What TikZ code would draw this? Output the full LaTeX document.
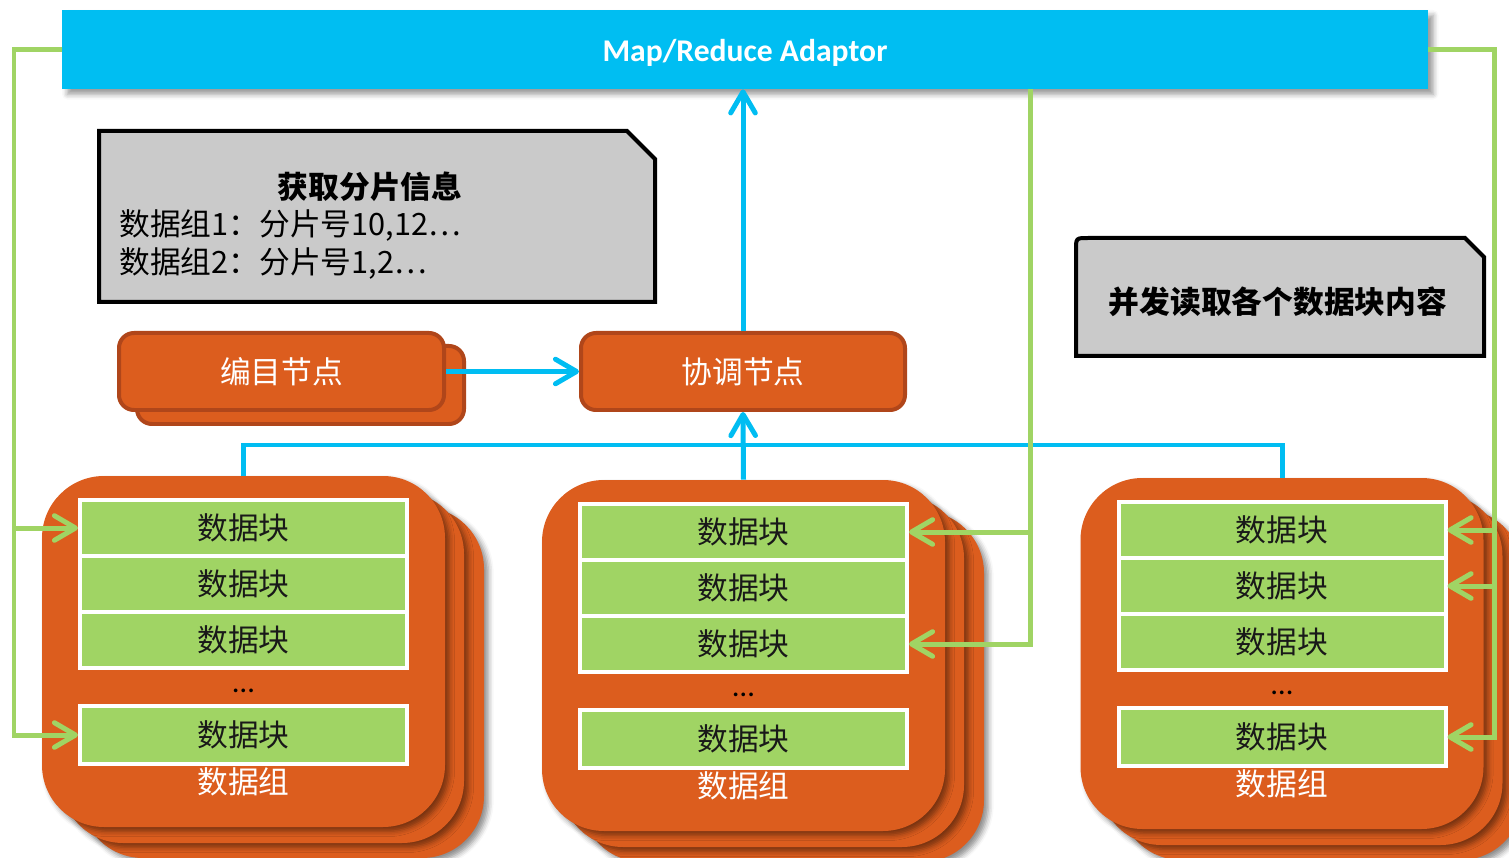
\documentclass[tikz,border=0pt]{standalone}
\usepackage{fontspec}
\setmainfont{Carlito}
\newfontfamily\cjk{Noto Sans CJK SC}
\usetikzlibrary{arrows.meta,shadows.blur}

\definecolor{barblue}{HTML}{00BEF2}
\definecolor{lineblue}{HTML}{00BDF2}
\definecolor{nodeorange}{HTML}{DC5D1E}
\definecolor{nodeedge}{HTML}{B0461A}
\definecolor{blockgreen}{HTML}{A0D464}
\definecolor{linegreen}{HTML}{A0D464}
\definecolor{notegray}{HTML}{CACACA}

\tikzset{
  zh/.style={font=\cjk\fontsize{17.5}{21}\selectfont},
  zhbold/.style={font=\cjk\bfseries\fontsize{17.5}{21}\selectfont},
  topbar/.style={fill=barblue, minimum width=1366*0.02cm, minimum height=79*0.02cm,
    inner sep=0pt,
    blur shadow={shadow xshift=3pt, shadow yshift=-3pt, shadow blur radius=3pt, shadow opacity=40}},
  bartext/.style={inner sep=0pt, text=white, font=\bfseries\fontsize{18}{22}\selectfont},
  note/.style={fill=notegray, draw=black, line width=0.08cm},
  orangebox/.style={fill=nodeorange, draw=nodeedge, line width=0.08cm, rounded corners=0.3cm,
    inner sep=0pt, text=white, zh},
  groupshadow/.style={blur shadow={shadow xshift=2.5pt, shadow yshift=-2.5pt,
    shadow blur radius=3pt, shadow opacity=45}},
  groupbox/.style={fill=nodeorange, rounded corners=1.24cm, inner sep=0pt,
    minimum width=403*0.02cm, minimum height=351*0.02cm, groupshadow},
  block/.style={fill=blockgreen, draw=white, line width=0.08cm, inner sep=0pt,
    minimum width=327*0.02cm, minimum height=56*0.02cm, text=black!90, zh},
  bline/.style={draw=lineblue, line width=0.1cm},
  barrow/.style={bline, -{Straight Barb[length=12pt, width=14pt, round]}},
  gline/.style={draw=linegreen, line width=0.1cm},
  garrow/.style={gline, -{Straight Barb[length=12pt, width=14pt, round]}},
}

% one stacked data group: name, centre x, top y
\newcommand\datagroup[3]{%
  \foreach \dx/\dy in {39/31, 19/16} {
    \fill[nodeorange, rounded corners=1.24cm, groupshadow]
      ({#2-201.5+\dx},{#3+\dy}) rectangle ({#2+201.5+\dx},{#3+351+\dy});
  }
  \node[groupbox] (#1) at (#2,{#3+175.5}) {};
  \node[block] (#1b1) at (#2,{#3+52}) {数据块};
  \node[block] (#1b2) at (#2,{#3+108}) {数据块};
  \node[block] (#1b3) at (#2,{#3+164}) {数据块};
  \node[font=\fontsize{17.5}{21}\selectfont, inner sep=0pt] (#1dots) at (#2,{#3+215}) {…};
  \node[block, minimum height=58*0.02cm] (#1b4) at (#2,{#3+259}) {数据块};
  \node[zh, text=white, inner sep=0pt] (#1lab) at (#2,{#3+306}) {数据组};
}

\begin{document}
\begin{tikzpicture}[x=0.02cm,y=-0.02cm]
\useasboundingbox (0,0) rectangle (1509,858);

% adaptor bar
\node[topbar] (bar) at (745,49.5) {};
\node[bartext] (bartitle) at ([yshift=-0.06cm]bar.center) {Map/Reduce Adaptor};

% shard information note
\draw[note] (99,131) -- (627,131) -- (655,159) -- (655,302) -- (99,302) -- cycle;
\node[zhbold, inner sep=0pt] (n1t) at (370,187) {获取分片信息};
\node[zh, anchor=west, inner sep=0pt] (n1a) at (119,225)
  {{\cjk 数据组}1{\cjk ：分片号}10,12…};
\node[zh, anchor=west, inner sep=0pt] (n1b) at (119,263)
  {{\cjk 数据组}2{\cjk ：分片号}1,2…};

% concurrent read note
\draw[note] (1076,356) -- (1076,250) .. controls (1076,238) .. (1088,238)
  -- (1465,238) -- (1484,257) -- (1484,356) -- cycle;
\node[zhbold, inner sep=0pt] (n2t) at (1278,302) {并发读取各个数据块内容};

% catalogue node (stacked) and coordinator node
\node[orangebox, minimum width=327*0.02cm, minimum height=78*0.02cm] (catb) at (300.5,385) {};
\node[orangebox, minimum width=325*0.02cm, minimum height=77*0.02cm] (cat) at (281.5,371.5) {编目节点};
\node[orangebox, minimum width=324*0.02cm, minimum height=77*0.02cm] (xt) at (743,371.5) {协调节点};

% data groups
\datagroup{ga}{243.5}{476}
\datagroup{gb}{743.5}{480}
\datagroup{gc}{1282}{478}

% blue connectors
\coordinate (bus) at (743,445);
\draw[barrow] (cat.east) -- (xt.west);
\draw[barrow] (xt.north) -- (xt.north |- bar.south);
\draw[bline] (ga.north) |- (bus) -| (gc.north);
\draw[barrow] (gb.north) -- (xt.south);

% green read connectors
\coordinate (lx) at (14,0);
\coordinate (mx) at (1030,0);
\coordinate (rx) at (1494,0);
\draw[garrow] (bar.west) -| (lx |- gab4.west) -- (gab4.west);
\draw[garrow] (lx |- gab1.west) -- (gab1.west);
\draw[garrow] (mx |- bar.south) |- (gbb3.east);
\draw[garrow] (mx |- gbb1.east) -- (gbb1.east);
\draw[garrow] (bar.east) -| (rx |- gcb4.east) -- (gcb4.east);
\draw[garrow] (rx |- gcb1.east) -- (gcb1.east);
\draw[garrow] (rx |- gcb2.east) -- (gcb2.east);
\end{tikzpicture}
\end{document}
